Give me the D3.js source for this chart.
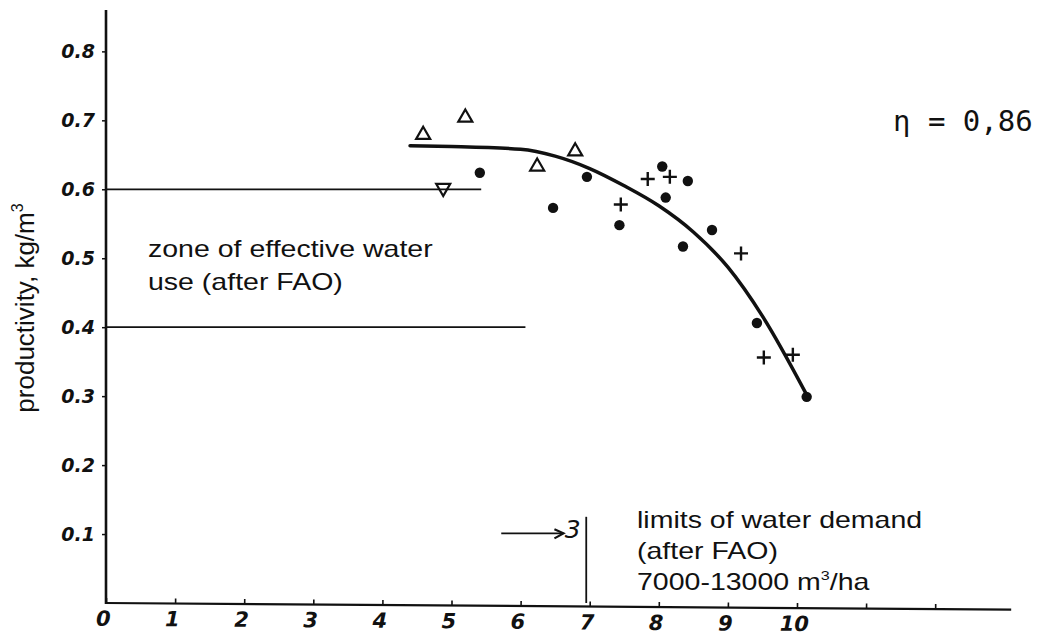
<!DOCTYPE html>
<html>
<head>
<meta charset="utf-8">
<script src="https://cdn.jsdelivr.net/npm/d3@7"></script>
<style>
  html, body { margin: 0; padding: 0; background: #fff; }
  svg { display: block; }
  .lbl { font-family: "Liberation Sans", Arial, sans-serif; font-size: 23px; fill: #111; }
  .tick text { font-family: "DejaVu Sans", sans-serif; font-style: italic; fill: #111; }
</style>
</head>
<body>
<svg id="chart" width="1038" height="635"></svg>
<script>
// Irrigation norm, thousand m3/ha, against water productivity, kg/m3
const yTickValues = [0.1, 0.2, 0.3, 0.4, 0.5, 0.6, 0.7, 0.8];
const yTickLabels = ["0.1", "0.2", "0.3", "0.4", "0.5", "0.6", "0.7", "0.8"];
const xTickValues = [0, 1, 2, 3, 4, 5, 6, 7, 8, 9, 10, 11, 12];
const xTickLabels = ["0", "1", "2", "3", "4", "5", "6", "7", "8", "9", "10", "", ""];

// fitted productivity curve
const curveX = [4.4, 5.0, 6.0, 6.5, 7.0, 7.5, 8.0, 8.5, 9.0, 9.5, 10.15];
const curveY = [0.663, 0.662, 0.658, 0.648, 0.630, 0.605, 0.576, 0.538, 0.487, 0.416, 0.300];

// observations, by marker
const triUpX = [4.59, 5.20, 6.24, 6.79];
const triUpY = [0.679, 0.704, 0.633, 0.655];
const triDownX = [4.88];
const triDownY = [0.602];
const dotX = [5.41, 6.47, 6.96, 7.43, 8.05, 8.42, 8.10, 8.77, 8.35, 9.42, 10.14];
const dotY = [0.624, 0.573, 0.618, 0.548, 0.633, 0.612, 0.588, 0.541, 0.517, 0.406, 0.299];
const crossX = [7.45, 7.84, 8.16, 9.19, 9.52, 9.94];
const crossY = [0.578, 0.615, 0.618, 0.507, 0.356, 0.360];

// zone of effective water use (after FAO) and demand limit
const zoneBounds = [0.6, 0.4];
const zoneEnds = [5.43, 6.07];
const demandLimit = 6.95;

const svg = d3.select("#chart");
const x = d3.scaleLinear().domain([0, 13.1]).range([106, 1011.2]);
const y = d3.scaleLinear().domain([0, 0.86]).range([603, 10]);

// y axis
const yAxis = d3.axisLeft(y)
  .tickValues(yTickValues)
  .tickFormat((d, i) => yTickLabels[i])
  .tickSizeInner(4).tickSizeOuter(0).tickPadding(7);
const gy = svg.append("g").attr("transform", `translate(${x(0)},0)`).call(yAxis);
gy.select(".domain").remove();
gy.selectAll(".tick line").attr("stroke", "#111").attr("stroke-width", 1.5);
gy.selectAll(".tick text").attr("font-size", 19).attr("font-weight", "bold");
svg.append("line")
  .attr("x1", x(0)).attr("x2", x(0)).attr("y1", y(0.86)).attr("y2", y(0) + 1)
  .attr("stroke", "#111").attr("stroke-width", 2.6);

// x axis, drawn with a slight downward slope to the right
const xAxis = d3.axisBottom(x)
  .tickValues(xTickValues)
  .tickFormat((d, i) => xTickLabels[i])
  .tickSizeInner(-5).tickSizeOuter(0).tickPadding(8);
const gx = svg.append("g")
  .attr("transform", `translate(0,${y(0)}) rotate(0.42, ${x(0)}, 0)`)
  .call(xAxis);
gx.select(".domain").attr("stroke", "#111").attr("stroke-width", 2.2)
  .attr("d", `M${x(0)},0H${x(13.1)}`);
gx.selectAll(".tick line").attr("stroke", "#111").attr("stroke-width", 1.6);
gx.selectAll(".tick text").attr("font-size", 21).attr("font-weight", "bold").attr("dx", -3);

// zone boundaries
svg.selectAll("line.zone").data(zoneBounds).join("line")
  .attr("class", "zone")
  .attr("x1", x(0)).attr("x2", (d, i) => x(zoneEnds[i]))
  .attr("y1", d => y(d)).attr("y2", d => y(d))
  .attr("stroke", "#111").attr("stroke-width", 1.7);

// demand limit marker
svg.append("line")
  .attr("x1", x(demandLimit)).attr("x2", x(demandLimit))
  .attr("y1", y(0.125)).attr("y2", y(0))
  .attr("stroke", "#111").attr("stroke-width", 1.8);
svg.append("line")
  .attr("x1", x(5.72)).attr("x2", x(6.62))
  .attr("y1", y(0.101)).attr("y2", y(0.101))
  .attr("stroke", "#111").attr("stroke-width", 1.8);
svg.append("path")
  .attr("d", `M${x(6.62) - 9},${y(0.101) - 4}L${x(6.62)},${y(0.101)}L${x(6.62) - 9},${y(0.101) + 5}`)
  .attr("fill", "none").attr("stroke", "#111").attr("stroke-width", 2.2);
svg.append("text")
  .attr("x", x(6.64)).attr("y", y(0.101) + 5)
  .attr("font-family", "DejaVu Sans, sans-serif").attr("font-style", "italic")
  .attr("font-size", 25).attr("fill", "#111").text("3");

// fitted curve
const curvePts = curveX.map((d, i) => [x(d), y(curveY[i])]);
svg.append("path")
  .attr("d", d3.line().curve(d3.curveMonotoneX)(curvePts))
  .attr("fill", "none").attr("stroke", "#111").attr("stroke-width", 3.5)
  .attr("stroke-linecap", "round");

// markers
const tri = d3.symbol().type(d3.symbolTriangle).size(85);
svg.selectAll("path.tu").data(triUpX).join("path")
  .attr("class", "tu")
  .attr("d", tri)
  .attr("transform", (d, i) => `translate(${x(d)},${y(triUpY[i])})`)
  .attr("fill", "none").attr("stroke", "#111").attr("stroke-width", 2.2);
svg.selectAll("path.td").data(triDownX).join("path")
  .attr("class", "td")
  .attr("d", tri)
  .attr("transform", (d, i) => `translate(${x(d)},${y(triDownY[i])}) rotate(180)`)
  .attr("fill", "none").attr("stroke", "#111").attr("stroke-width", 2.2);
svg.selectAll("circle.dot").data(dotX).join("circle")
  .attr("class", "dot")
  .attr("cx", d => x(d)).attr("cy", (d, i) => y(dotY[i]))
  .attr("r", 5.2).attr("fill", "#111");
svg.selectAll("path.cross").data(crossX).join("path")
  .attr("class", "cross")
  .attr("d", (d, i) => {
    const cx = x(d), cy = y(crossY[i]);
    return `M${cx - 7},${cy}H${cx + 7}M${cx},${cy - 7}V${cy + 7}`;
  })
  .attr("stroke", "#111").attr("stroke-width", 2.4);

// texts (set slightly wide)
const wide = 1.24;
svg.append("text")
  .attr("transform", "translate(34,308) rotate(-90)")
  .attr("text-anchor", "middle")
  .attr("font-family", "Liberation Sans, Arial, sans-serif")
  .attr("font-size", 26).attr("fill", "#111")
  .call(t => {
    t.append("tspan").text("productivity, kg/m");
    t.append("tspan").attr("font-size", 16).attr("dy", -11).text("3");
  });

const zoneText = ["zone of effective water", "use (after FAO)"];
svg.selectAll("text.zt").data(zoneText).join("text")
  .attr("class", "lbl zt")
  .attr("transform", (d, i) => `translate(148,${257 + i * 33}) scale(${wide},1)`)
  .text(d => d);

const limitText = ["limits of water demand", "(after FAO)"];
svg.selectAll("text.lt").data(limitText).join("text")
  .attr("class", "lbl lt")
  .attr("transform", (d, i) => `translate(637,${528 + i * 31}) scale(${wide},1)`)
  .text(d => d);
svg.append("text").attr("class", "lbl")
  .attr("transform", `translate(637,590) scale(${wide},1)`)
  .call(t => {
    t.append("tspan").text("7000-13000 m");
    t.append("tspan").attr("font-size", 13).attr("dy", -10).text("3");
    t.append("tspan").attr("dy", 10).text("/ha");
  });

svg.append("text")
  .attr("x", 893).attr("y", 131)
  .attr("font-family", "DejaVu Sans Mono, monospace")
  .attr("font-size", 29).attr("fill", "#111")
  .text("η = 0,86");
</script>
</body>
</html>
